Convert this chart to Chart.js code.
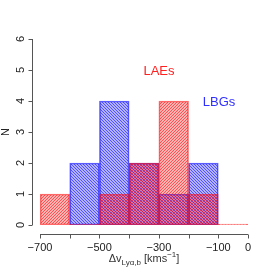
<!DOCTYPE html>
<html>
<head>
<meta charset="utf-8">
<script src="https://cdn.jsdelivr.net/npm/chart.js@4"></script>
<style>
  html, body { margin: 0; padding: 0; background: #fff; }
  #wrap { width: 273px; height: 273px; }
</style>
</head>
<body>
<div id="wrap"><canvas id="histChart" width="273" height="273"></canvas></div>
<script>
// histogram bins (centres, 100 km/s wide) and counts
const binCenters = [-650, -550, -450, -350, -250, -150, -50];
const laeCounts = [1, 0, 1, 2, 4, 1, 0];
const lbgCounts = [null, 2, 4, 2, 1, 2, null];

// axis ticks
const xTickValues = [-700, -600, -500, -400, -300, -200, -100, 0];
const xLabelValues = [-700, -500, -300, -100, 0];
const xLabelTexts = ['\u2212700', '\u2212500', '\u2212300', '\u2212100', '0'];
const yTickValues = [0, 1, 2, 3, 4, 5, 6];

const FONT = '"Liberation Sans", Arial, sans-serif';

// dense diagonal hatching like R's density= fill
function hatch(rgb, dir) {
    const c = document.createElement('canvas');
    c.width = 3; c.height = 3;
    const g = c.getContext('2d');
    g.fillStyle = 'rgba(' + rgb + ',0.3)';
    g.fillRect(0, 0, 3, 3);
    g.fillStyle = 'rgba(' + rgb + ',0.55)';
    for (let i = 0; i < 3; i++) {
        g.fillRect(dir > 0 ? 2 - i : i, i, 1, 1);
    }
    return g.createPattern(c, 'repeat');
}

// R-style detached axes and the text labels
const rAxes = {
    id: 'rAxes',
    afterDraw(chart) {
        const { ctx, scales: { x, y } } = chart;
        ctx.save();
        ctx.strokeStyle = '#555';
        ctx.lineWidth = 1;
        ctx.fillStyle = '#222';

        // y axis
        const ax = Math.round(x.left) - 8 + 0.5;
        ctx.beginPath();
        ctx.moveTo(ax, y.getPixelForValue(0));
        ctx.lineTo(ax, y.getPixelForValue(6));
        yTickValues.forEach(v => {
            const py = Math.round(y.getPixelForValue(v)) + 0.5;
            ctx.moveTo(ax, py);
            ctx.lineTo(ax - 4, py);
        });
        ctx.stroke();
        ctx.font = '11px ' + FONT;
        ctx.textAlign = 'center';
        ctx.textBaseline = 'middle';
        yTickValues.forEach(v => {
            ctx.save();
            ctx.translate(ax - 12, y.getPixelForValue(v));
            ctx.rotate(-Math.PI / 2);
            ctx.fillText(String(v), 0, 0);
            ctx.restore();
        });

        // x axis
        const ay = Math.round(y.bottom) + 9 + 0.5;
        ctx.beginPath();
        ctx.moveTo(x.getPixelForValue(-700), ay);
        ctx.lineTo(x.getPixelForValue(0), ay);
        xTickValues.forEach(v => {
            const px = Math.round(x.getPixelForValue(v)) + 0.5;
            ctx.moveTo(px, ay);
            ctx.lineTo(px, ay + 4);
        });
        ctx.stroke();
        ctx.textBaseline = 'alphabetic';
        xLabelValues.forEach((v, i) => {
            ctx.fillText(xLabelTexts[i], x.getPixelForValue(v), ay + 16);
        });

        // y title
        ctx.save();
        ctx.translate(9, (y.top + y.bottom) / 2);
        ctx.rotate(-Math.PI / 2);
        ctx.font = '11px ' + FONT;
        ctx.fillText('N', 0, 0);
        ctx.restore();

        // x title: Δv_{Lyα,b} [kms^-1]
        const parts = [
            { t: '\u0394v', f: '11px ' + FONT, dy: 0 },
            { t: 'Ly\u03b1,b', f: '8px ' + FONT, dy: 3 },
            { t: ' [kms', f: '11px ' + FONT, dy: 0 },
            { t: '\u22121', f: '8px ' + FONT, dy: -5 },
            { t: ']', f: '11px ' + FONT, dy: 0 }
        ];
        let total = 0;
        parts.forEach(p => { ctx.font = p.f; p.w = ctx.measureText(p.t).width; total += p.w; });
        let tx = 144 - total / 2;
        ctx.textAlign = 'left';
        ctx.fillStyle = '#333';
        parts.forEach(p => {
            ctx.font = p.f;
            ctx.fillText(p.t, tx, 262 + p.dy);
            tx += p.w;
        });

        // sample labels
        ctx.textAlign = 'center';
        ctx.font = '13px ' + FONT;
        ctx.fillStyle = '#ff2020';
        ctx.fillText('LAEs', 159, 75);
        ctx.fillStyle = '#3030ff';
        ctx.fillText('LBGs', 219, 106);
        ctx.restore();
    }
};

new Chart(document.getElementById('histChart').getContext('2d'), {
    type: 'bar',
    data: {
        datasets: [{
            label: 'LAEs',
            data: binCenters.map((c, i) => ({ x: c, y: laeCounts[i] })),
            backgroundColor: hatch('255,0,0', 1),
            borderColor: 'rgba(255,0,0,0.55)',
            borderWidth: 1,
            borderSkipped: false,
            minBarLength: 1
        }, {
            label: 'LBGs',
            data: binCenters.map((c, i) => ({ x: c, y: lbgCounts[i] })),
            backgroundColor: hatch('0,0,255', -1),
            borderColor: 'rgba(0,0,255,0.6)',
            borderWidth: 1,
            borderSkipped: false
        }]
    },
    options: {
        responsive: false,
        animation: false,
        grouped: false,
        barPercentage: 1,
        categoryPercentage: 1,
        layout: { padding: { left: 40, right: 25, top: 39, bottom: 48 } },
        plugins: { legend: { display: false }, tooltip: { enabled: false } },
        scales: {
            x: { type: 'linear', min: -700, max: 0, offset: false, display: false },
            y: { min: 0, max: 6, display: false }
        }
    },
    plugins: [rAxes]
});
</script>
</body>
</html>
